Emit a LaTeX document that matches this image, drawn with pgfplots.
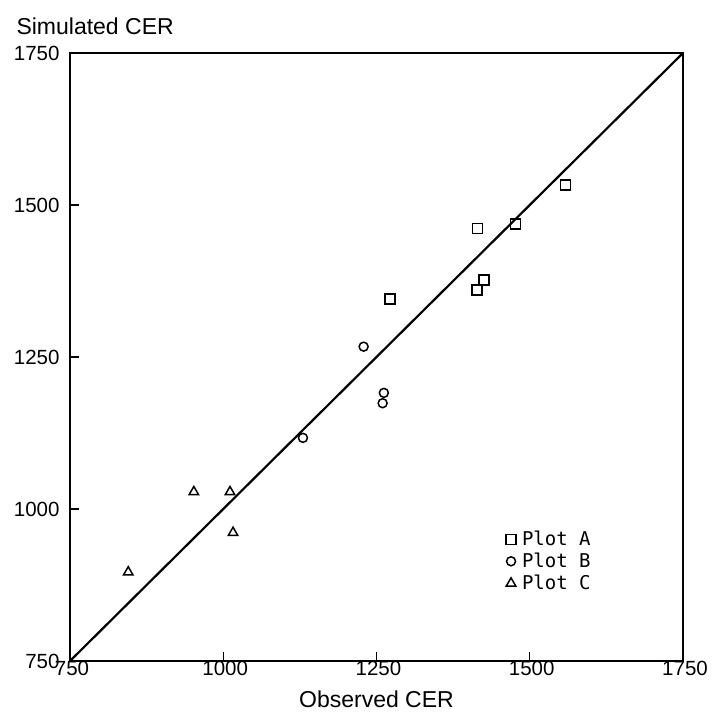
\documentclass[border=0pt]{standalone}
\usepackage{pgfplots}
\pgfplotsset{compat=1.18}
\usepackage{fontspec}
\setmainfont{Liberation Sans}
\newfontfamily\legfont{DejaVu Sans Mono}
\begin{document}
\begin{tikzpicture}
\begin{axis}[
  scale only axis,
  width=613bp, height=608bp,
  xmin=750, xmax=1750, ymin=750, ymax=1750,
  xtick={750,1000,1250,1500,1750},
  ytick={750,1000,1250,1500,1750},
  tick pos=left,
  tick align=inside,
  major tick length=9bp,
  axis line style={line width=1.9bp},
  every tick/.style={line width=1.2bp, black},
  /pgf/number format/assume math mode=true,
  /pgf/number format/1000 sep={},
  tick label style={font=\fontsize{20.5bp}{24bp}\selectfont},
  xticklabel style={yshift=3bp, xshift=2bp},
  yticklabel style={xshift=-7bp},
  xlabel={Observed CER},
  ylabel={Simulated CER},
  label style={font=\fontsize{23bp}{27bp}\selectfont},
  xlabel style={yshift=-8bp},
  ylabel style={rotate=-90, at={(rel axis cs:0,1)}, anchor=base west, xshift=-57bp, yshift=18bp},
  legend style={draw=none, fill=none, at={(rel axis cs:0.711,0.217)}, anchor=north west,
    font=\legfont\fontsize{19bp}{21bp}\selectfont, row sep=2bp, inner sep=0pt},
  legend cell align=left,
  legend image code/.code={\draw[#1] plot coordinates {(0bp,0bp)}; \path[draw=none,fill=none] (0bp,0bp) -- (9bp,0bp);},
]
\addplot[black, line width=2.2bp, forget plot] coordinates {(750,750) (1750,1750)};
\addplot[only marks, mark=square, mark size=5bp, line width=1.5bp, black]
  coordinates {(1272,1345) (1415,1461) (1477,1469) (1425,1377) (1414,1360) (1558,1533)};
\addlegendentry{Plot A}
\addplot[only marks, mark=o, mark size=4.5bp, line width=1.5bp, black]
  coordinates {(1130,1117) (1229,1267) (1262,1191) (1260,1174)};
\addlegendentry{Plot B}
\addplot[only marks, mark=triangle, mark size=5.5bp, line width=1.5bp, black]
  coordinates {(845,896) (952,1028) (1011,1028) (1016,961)};
\addlegendentry{Plot C}
\coordinate (sw) at (rel axis cs:0,0);
\coordinate (ne) at (rel axis cs:1,1);
\end{axis}
\path ([shift={(-70bp,-52bp)}]sw) rectangle ([shift={(30bp,53bp)}]ne);
\end{tikzpicture}
\end{document}
